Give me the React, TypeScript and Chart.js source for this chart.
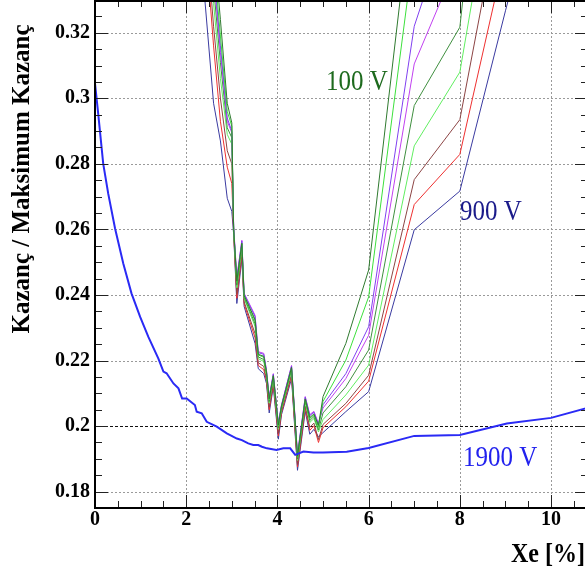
import React, { useEffect, useRef } from "react";
import { Chart, registerables } from "chart.js";

Chart.register(...registerables);

// ---------- data ----------
const BLUE_X = [0, 0.07, 0.18, 0.29, 0.44, 0.62, 0.8, 0.99, 1.17, 1.39, 1.5, 1.57, 1.72, 1.83, 1.91, 2.01, 2.19, 2.23, 2.34, 2.45, 2.67, 2.89, 3.11, 3.22, 3.36, 3.47, 3.58, 3.66, 3.77, 3.98, 4.13, 4.28, 4.39, 4.57, 4.79, 5.0, 5.52, 6.0, 7.0, 8.0, 9.03, 10.0, 11.0];
const BLUE_Y = [0.3046, 0.2953, 0.2801, 0.2709, 0.2603, 0.2496, 0.2405, 0.2333, 0.2272, 0.2206, 0.2166, 0.2161, 0.213, 0.2115, 0.2084, 0.2084, 0.2064, 0.2044, 0.2039, 0.2013, 0.1998, 0.1978, 0.1962, 0.1957, 0.1947, 0.1942, 0.1942, 0.1937, 0.1932, 0.1927, 0.1932, 0.1932, 0.1912, 0.1922, 0.1919, 0.1919, 0.1922, 0.1933, 0.197, 0.1973, 0.2008, 0.2025, 0.2063];

const BUNDLE_X = [2.4, 2.6, 2.75, 2.9, 3.0, 3.04, 3.11, 3.22, 3.27, 3.51, 3.58, 3.7, 3.76, 3.82, 3.91, 4.02, 4.09, 4.31, 4.44, 4.61, 4.71, 4.8, 4.9, 5.0, 5.5, 6, 7, 8, 9, 10];

const V100 = [0.38, 0.348, 0.324, 0.2985, 0.2925, 0.26, 0.2442, 0.2558, 0.2399, 0.2325, 0.2219, 0.2213, 0.2165, 0.2083, 0.2154, 0.2003, 0.2061, 0.2179, 0.1908, 0.2083, 0.2026, 0.2037, 0.2002, 0.209, 0.2252, 0.2476, 0.367];
const V200 = [0.375, 0.343, 0.319, 0.296, 0.2915, 0.26, 0.2438, 0.2556, 0.2397, 0.2321, 0.2217, 0.221, 0.2163, 0.208, 0.2152, 0.2, 0.2059, 0.2177, 0.1905, 0.2081, 0.2023, 0.2034, 0.1996, 0.2075, 0.2201, 0.2394, 0.346];
const V300 = [0.372, 0.34, 0.316, 0.294, 0.29, 0.2605, 0.245, 0.2564, 0.2403, 0.2334, 0.2224, 0.2219, 0.2169, 0.2088, 0.2158, 0.2008, 0.2064, 0.2183, 0.1913, 0.2088, 0.2032, 0.2042, 0.2005, 0.2065, 0.216, 0.2303, 0.322, 0.364];
const V400 = [0.37, 0.338, 0.314, 0.293, 0.2895, 0.261, 0.2454, 0.2567, 0.2405, 0.2338, 0.2227, 0.2222, 0.2171, 0.209, 0.216, 0.201, 0.2065, 0.2185, 0.1915, 0.209, 0.2035, 0.2045, 0.2008, 0.2055, 0.2145, 0.2277, 0.3105, 0.3435];
const V500 = [0.366, 0.334, 0.311, 0.291, 0.288, 0.2605, 0.243, 0.255, 0.2393, 0.2312, 0.2211, 0.2203, 0.2159, 0.2075, 0.2148, 0.1995, 0.2056, 0.2173, 0.19, 0.2077, 0.2017, 0.2029, 0.1988, 0.204, 0.212, 0.2232, 0.2978, 0.3217, 0.45];
const V600 = [0.362, 0.329, 0.306, 0.289, 0.286, 0.26, 0.2422, 0.2544, 0.2389, 0.2304, 0.2206, 0.2197, 0.2155, 0.207, 0.2144, 0.199, 0.2053, 0.2169, 0.1895, 0.2072, 0.2011, 0.2023, 0.1982, 0.202, 0.2095, 0.2186, 0.2855, 0.308, 0.389];
const V700 = [0.357, 0.322, 0.3, 0.284, 0.28, 0.2595, 0.2402, 0.253, 0.2379, 0.2282, 0.2193, 0.2182, 0.2144, 0.2058, 0.2134, 0.1978, 0.2046, 0.2159, 0.1883, 0.2061, 0.1996, 0.2009, 0.1959, 0.2005, 0.2069, 0.2155, 0.2752, 0.2935, 0.3665];
const V800 = [0.352, 0.316, 0.293, 0.279, 0.274, 0.259, 0.239, 0.2521, 0.2373, 0.2269, 0.2185, 0.2172, 0.2138, 0.205, 0.2128, 0.197, 0.2041, 0.2153, 0.1875, 0.2054, 0.1987, 0.2001, 0.195, 0.1995, 0.2059, 0.2137, 0.2676, 0.2829, 0.3445];
const V900 = [0.3315, 0.2985, 0.287, 0.2695, 0.2655, 0.2585, 0.2374, 0.251, 0.2365, 0.2252, 0.2175, 0.216, 0.213, 0.204, 0.212, 0.196, 0.2035, 0.2145, 0.1865, 0.2045, 0.1975, 0.199, 0.1967, 0.198, 0.2044, 0.2105, 0.2599, 0.2717, 0.3267, 0.38];

const BUNDLE_SERIES = [V100, V200, V300, V400, V500, V600, V700, V800, V900];
const BUNDLE_LABELS = ["100 V", "200 V", "300 V", "400 V", "500 V", "600 V", "700 V", "800 V", "900 V"];
const BUNDLE_COLORS = ["#2f7a2f", "#3ce03c", "#8040f0", "#c040f0", "#3f8f3f", "#60ee60", "#8c4444", "#ee3030", "#3a3aa0"];

const X_TICKS = [0, 2, 4, 6, 8, 10];
const Y_TICKS = [0.18, 0.2, 0.22, 0.24, 0.26, 0.28, 0.3, 0.32];
const X_MINOR_STEP = 0.5;
const Y_MINOR_STEP = 0.005;
const X_MIN = 0;
const X_MAX = 10.81;
const Y_MIN = 0.175;
const Y_MAX = 0.33;

const SERIF = "'Liberation Serif', 'Times New Roman', serif";

function stretchedText(ctx: any, text: string, x: number, yMid: number, sy: number) {
  ctx.save();
  ctx.translate(x, yMid);
  ctx.scale(1, sy);
  ctx.fillText(text, 0, 0);
  ctx.restore();
}

const framePlugin = {
  id: "rootFrame",
  beforeDatasetsDraw(chart: any) {
    const { ctx, chartArea: a, scales } = chart;
    const x = scales.x;
    const y = scales.y;
    ctx.save();
    ctx.lineWidth = 1;
    ctx.setLineDash([2, 2]);
    ctx.strokeStyle = "#9a9a9a";
    for (const t of X_TICKS) {
      if (t === 0) continue;
      const px = Math.round(x.getPixelForValue(t)) + 0.5;
      ctx.beginPath();
      ctx.moveTo(px, a.top);
      ctx.lineTo(px, a.bottom);
      ctx.stroke();
    }
    for (const t of Y_TICKS) {
      const py = Math.round(y.getPixelForValue(t)) + 0.5;
      if (Math.abs(t - 0.2) < 1e-9) {
        ctx.strokeStyle = "#111";
        ctx.setLineDash([3, 2]);
      } else {
        ctx.strokeStyle = "#9a9a9a";
        ctx.setLineDash([2, 2]);
      }
      ctx.beginPath();
      ctx.moveTo(a.left, py);
      ctx.lineTo(a.right, py);
      ctx.stroke();
    }
    ctx.restore();
  },
  afterDatasetsDraw(chart: any) {
    const { ctx, chartArea: a, scales } = chart;
    const x = scales.x;
    const y = scales.y;
    ctx.save();
    ctx.setLineDash([]);
    ctx.strokeStyle = "#222";
    ctx.lineWidth = 1;
    const MAJ = 13;
    const MIN = 7;
    for (let v = X_MIN; v <= X_MAX + 1e-9; v += X_MINOR_STEP) {
      const isMajor = X_TICKS.some((t) => Math.abs(t - v) < 1e-6);
      const len = isMajor ? MAJ : MIN;
      const px = Math.round(x.getPixelForValue(v)) + 0.5;
      ctx.beginPath();
      ctx.moveTo(px, a.bottom);
      ctx.lineTo(px, a.bottom - len);
      ctx.moveTo(px, a.top);
      ctx.lineTo(px, a.top + len);
      ctx.stroke();
    }
    for (let v = Y_MIN; v <= Y_MAX + 1e-9; v += Y_MINOR_STEP) {
      const isMajor = Y_TICKS.some((t) => Math.abs(t - v) < 1e-6);
      const len = isMajor ? MAJ : MIN;
      const py = Math.round(y.getPixelForValue(v)) + 0.5;
      ctx.beginPath();
      ctx.moveTo(a.left, py);
      ctx.lineTo(a.left + len, py);
      ctx.moveTo(a.right, py);
      ctx.lineTo(a.right - len, py);
      ctx.stroke();
    }
    ctx.strokeStyle = "#000";
    ctx.lineWidth = 2;
    ctx.strokeRect(a.left, a.top + 1, a.right - a.left, a.bottom - a.top - 1);

    ctx.fillStyle = "#000";
    ctx.font = `bold 24px ${SERIF}`;
    ctx.textAlign = "right";
    ctx.textBaseline = "middle";
    stretchedText(ctx, "Xe [%]", 585, 555, 1.1);

    ctx.save();
    ctx.translate(23, 179);
    ctx.rotate(-Math.PI / 2);
    ctx.textAlign = "center";
    ctx.font = `bold 25px ${SERIF}`;
    ctx.fillText("Kazanç / Maksimum Kazanç", 0, 0);
    ctx.restore();

    ctx.font = `25px ${SERIF}`;
    ctx.textAlign = "left";
    ctx.fillStyle = "#1d6a1d";
    stretchedText(ctx, "100 V", 326, 82, 1.18);
    ctx.fillStyle = "#1a1a8a";
    stretchedText(ctx, "900 V", 460, 212, 1.18);
    ctx.fillStyle = "#2222ee";
    stretchedText(ctx, "1900 V", 463, 458, 1.18);
    ctx.restore();
  },
};

export default function App() {
  const ref = useRef<HTMLCanvasElement | null>(null);

  useEffect(() => {
    if (!ref.current) return;
    const datasets: any[] = [];
    datasets.push({
      label: "1900 V",
      data: BLUE_X.map((xv, i) => ({ x: xv, y: BLUE_Y[i] })),
      borderColor: "#2a2af5",
      borderWidth: 2,
      showLine: true,
      pointRadius: 0,
      tension: 0,
    });
    BUNDLE_SERIES.forEach((vals, k) => {
      datasets.push({
        label: BUNDLE_LABELS[k],
        data: vals.map((v, i) => ({ x: BUNDLE_X[i], y: v })),
        borderColor: BUNDLE_COLORS[k],
        borderWidth: 1,
        showLine: true,
        pointRadius: 0,
        tension: 0,
      });
    });

    const tickFont = { family: SERIF, size: 20, weight: "bold" as const };
    const chart = new Chart(ref.current, {
      type: "scatter",
      data: { datasets },
      plugins: [framePlugin],
      options: {
        responsive: false,
        animation: false,
        devicePixelRatio: 1,
        layout: { padding: { top: 0, right: 12, left: 0, bottom: 0 } },
        plugins: { legend: { display: false }, tooltip: { enabled: false } },
        scales: {
          x: {
            type: "linear",
            min: X_MIN,
            max: X_MAX,
            afterBuildTicks: (s: any) => {
              s.ticks = X_TICKS.map((v) => ({ value: v }));
            },
            afterFit: (s: any) => {
              s.height = 67;
              s.paddingLeft = 0;
              s.paddingRight = 0;
            },
            ticks: {
              font: tickFont,
              color: "#000",
              padding: 0,
              maxRotation: 0,
              autoSkip: false,
              callback: (v: any) => String(v),
            },
            grid: { display: false, drawTicks: false },
            border: { display: false },
          },
          y: {
            type: "linear",
            min: Y_MIN,
            max: Y_MAX,
            afterBuildTicks: (s: any) => {
              s.ticks = Y_TICKS.map((v) => ({ value: v }));
            },
            afterFit: (s: any) => {
              s.width = 95;
              s.paddingTop = 0;
              s.paddingBottom = 0;
            },
            ticks: {
              font: tickFont,
              color: "#000",
              padding: 5,
              autoSkip: false,
              callback: (v: any) => String(Number(Number(v).toFixed(2))),
            },
            grid: { display: false, drawTicks: false },
            border: { display: false },
          },
        },
      },
    });
    return () => chart.destroy();
  }, []);

  return (
    <div
      style={{
        position: "fixed",
        left: 0,
        top: 0,
        width: 585,
        height: 575,
        overflow: "hidden",
        background: "#fff",
      }}
    >
      <canvas ref={ref} width={600} height={575} style={{ display: "block" }} />
    </div>
  );
}
